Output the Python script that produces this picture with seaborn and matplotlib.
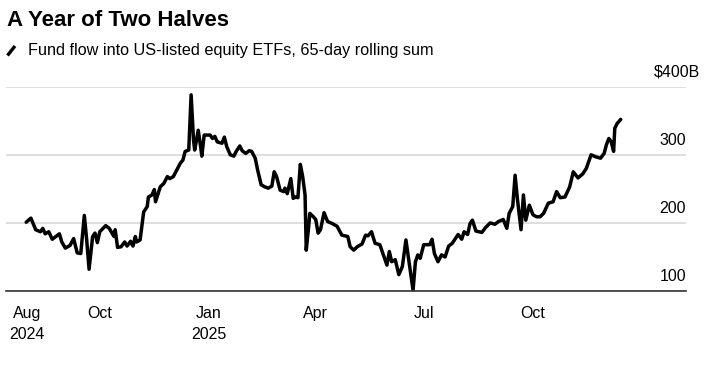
import matplotlib
matplotlib.use("Agg")
import matplotlib.pyplot as plt
from matplotlib.lines import Line2D
import seaborn as sns
import pandas as pd

# ---- data ----
dates = [
    "2024-07-31", "2024-08-04", "2024-08-08", "2024-08-12", "2024-08-14", "2024-08-16",
    "2024-08-19", "2024-08-22", "2024-08-25", "2024-08-28", "2024-08-30", "2024-09-02",
    "2024-09-06", "2024-09-09", "2024-09-12", "2024-09-15", "2024-09-18", "2024-09-20",
    "2024-09-22", "2024-09-25", "2024-09-27", "2024-09-29", "2024-10-01", "2024-10-06",
    "2024-10-09", "2024-10-13", "2024-10-14", "2024-10-16", "2024-10-19", "2024-10-22",
    "2024-10-24", "2024-10-27", "2024-10-29", "2024-10-31", "2024-11-01", "2024-11-04",
    "2024-11-07", "2024-11-10", "2024-11-11", "2024-11-14", "2024-11-16", "2024-11-17",
    "2024-11-21", "2024-11-24", "2024-11-27", "2024-11-29", "2024-12-02", "2024-12-05",
    "2024-12-08", "2024-12-10", "2024-12-12", "2024-12-15", "2024-12-17", "2024-12-19",
    "2024-12-20", "2024-12-23", "2024-12-25", "2024-12-26", "2024-12-28", "2025-01-02",
    "2025-01-04", "2025-01-06", "2025-01-08", "2025-01-12", "2025-01-14", "2025-01-16",
    "2025-01-19", "2025-01-22", "2025-01-24", "2025-01-27", "2025-01-29", "2025-02-01",
    "2025-02-04", "2025-02-06", "2025-02-09", "2025-02-11", "2025-02-14", "2025-02-17",
    "2025-02-20", "2025-02-23", "2025-02-25", "2025-02-27", "2025-03-02", "2025-03-05",
    "2025-03-06", "2025-03-08", "2025-03-11", "2025-03-13", "2025-03-15", "2025-03-17",
    "2025-03-19", "2025-03-21", "2025-03-23", "2025-03-24", "2025-03-26", "2025-03-27",
    "2025-03-30", "2025-04-01", "2025-04-03", "2025-04-05", "2025-04-08", "2025-04-11",
    "2025-04-15", "2025-04-19", "2025-04-23", "2025-04-28", "2025-04-30", "2025-05-03",
    "2025-05-06", "2025-05-10", "2025-05-13", "2025-05-15", "2025-05-18", "2025-05-21",
    "2025-05-25", "2025-05-28", "2025-05-31", "2025-06-02", "2025-06-04", "2025-06-07",
    "2025-06-10", "2025-06-13", "2025-06-16", "2025-06-18", "2025-06-22", "2025-06-24",
    "2025-06-26", "2025-06-28", "2025-07-01", "2025-07-06", "2025-07-08", "2025-07-10",
    "2025-07-13", "2025-07-16", "2025-07-19", "2025-07-22", "2025-07-25", "2025-07-30",
    "2025-08-02", "2025-08-04", "2025-08-07", "2025-08-09", "2025-08-11", "2025-08-14",
    "2025-08-19", "2025-08-22", "2025-08-26", "2025-08-30", "2025-09-02", "2025-09-06",
    "2025-09-09", "2025-09-11", "2025-09-14", "2025-09-16", "2025-09-18", "2025-09-21",
    "2025-09-23", "2025-09-25", "2025-09-28", "2025-10-01", "2025-10-04", "2025-10-07",
    "2025-10-10", "2025-10-14", "2025-10-18", "2025-10-21", "2025-10-24", "2025-10-28",
    "2025-11-01", "2025-11-04", "2025-11-08", "2025-11-12", "2025-11-15", "2025-11-19",
    "2025-11-23", "2025-11-27", "2025-11-30", "2025-12-02", "2025-12-04", "2025-12-06",
    "2025-12-08", "2025-12-09", "2025-12-11", "2025-12-14",
]
flows_bn = [
    201, 207, 190, 187, 192, 184,
    187, 176, 180, 184, 172, 163,
    167, 177, 156, 155, 211, 175,
    132, 180, 185, 171, 187, 196,
    192, 180, 190, 164, 165, 172,
    166, 173, 166, 180, 172, 175,
    216, 224, 238, 241, 249, 231,
    253, 258, 268, 265, 268, 278,
    288, 292, 305, 307, 388, 322,
    307, 336, 312, 298, 329, 329,
    324, 327, 319, 317, 326, 312,
    300, 298, 305, 313, 306, 302,
    306, 305, 295, 278, 256, 253,
    251, 254, 275, 268, 248, 246,
    251, 243, 265, 236, 238, 237,
    286, 268, 241, 160, 194, 214,
    209, 205, 185, 190, 215, 202,
    199, 195, 182, 180, 165, 160,
    165, 169, 182, 181, 187, 170,
    168, 153, 138, 158, 143, 146,
    124, 136, 175, 150, 101, 143,
    153, 148, 168, 168, 176, 155,
    143, 153, 150, 166, 170, 183,
    176, 187, 183, 199, 204, 188,
    186, 193, 200, 198, 202, 205,
    192, 214, 224, 270, 234, 190,
    241, 204, 226, 212, 209, 209,
    214, 229, 231, 246, 237, 238,
    253, 275, 266, 272, 280, 300,
    297, 295, 302, 315, 324, 319,
    305, 339, 346, 352,
]

tick_dates = ["2024-08-01", "2024-10-01", "2025-01-01", "2025-04-01", "2025-07-01", "2025-10-01"]
tick_labels = ["Aug\n2024", "Oct", "Jan\n2025", "Apr", "Jul", "Oct"]
y_ticks = [100, 200, 300, 400]
y_labels = ["100", "200", "300", "$400B"]

title = "A Year of Two Halves"
subtitle = "Fund flow into US-listed equity ETFs, 65-day rolling sum"

# ---- style ----
sns.set_theme(style="white")
plt.rcParams["font.family"] = ["Liberation Sans", "DejaVu Sans"]
plt.rcParams["text.color"] = "black"
plt.rcParams["xtick.color"] = "black"

W, H = 716, 367
fig = plt.figure(figsize=(W / 100, H / 100), dpi=100)
ax = fig.add_axes([6 / W, 1 - 291 / H, (686 - 6) / W, (291 - 86.7) / H])

df = pd.DataFrame({"date": pd.to_datetime(dates), "flow": flows_bn})
sns.lineplot(data=df, x="date", y="flow", ax=ax, color="black", linewidth=2.5,
             estimator=None, sort=True)
for l in ax.lines:
    l.set_solid_joinstyle("round")
    l.set_solid_capstyle("round")

ax.set_xlim(pd.Timestamp("2024-07-14"), pd.Timestamp("2026-02-07"))
ax.set_ylim(100, 400)
ax.set_xlabel("")
ax.set_ylabel("")

# y grid and labels placed above lines at right
ax.set_yticks(y_ticks)
ax.yaxis.grid(True, color="#dcdcdc", linewidth=1.3)
ax.set_axisbelow(True)
ax.tick_params(axis="y", length=0, labelleft=False, labelright=False)
for v, lab in zip(y_ticks, y_labels):
    dx = 10 if lab.startswith("$") else 0
    ax.annotate(lab, xy=(1.0, v), xycoords=ax.get_yaxis_transform(),
                xytext=(dx, 7.3), textcoords="offset points",
                ha="right", va="baseline", fontsize=11.5, color="black",
                annotation_clip=False)

# x ticks
ax.set_xticks(pd.to_datetime(tick_dates))
ax.set_xticklabels(tick_labels, fontsize=11.5, color="black", linespacing=1.45)
ax.tick_params(axis="x", length=7, width=1, color="#666666", direction="out", pad=4,
               labelcolor="black")

for s in ["left", "right", "top"]:
    ax.spines[s].set_visible(False)
ax.spines["bottom"].set_color("#333333")
ax.spines["bottom"].set_linewidth(1.2)

# title, subtitle and legend stroke
fig.text(7 / W, 1 - 20 / H, title, fontsize=16, fontweight="bold", va="center", ha="left",
         color="black")
fig.text(28 / W, 1 - 51 / H, subtitle, fontsize=11.7, va="center", ha="left", color="black")
fig.add_artist(Line2D([7.5 / W, 15 / W], [1 - 55.5 / H, 1 - 46 / H],
                      transform=fig.transFigure, color="black", linewidth=2.4,
                      solid_capstyle="butt"))

fig.savefig("out.png", dpi=100)
